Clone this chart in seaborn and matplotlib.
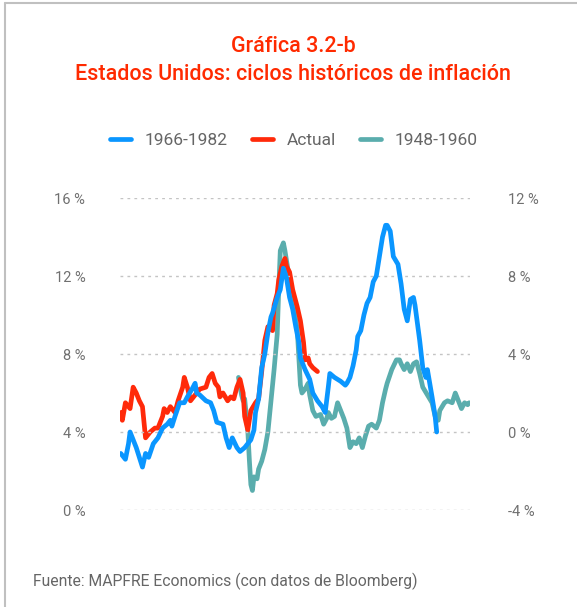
import matplotlib
matplotlib.use("Agg")
import matplotlib.pyplot as plt
from matplotlib.lines import Line2D
from matplotlib.ticker import FixedLocator, FuncFormatter
import seaborn as sns
import pandas as pd

# months since the start of each cycle, inflation in % (y/y)
blue_months = [0, 3, 5, 6, 10, 14, 16, 18, 21, 24, 27, 30, 32, 33, 35, 38, 41, 43, 46, 48,
               49, 51, 55, 58, 60, 62, 66, 68, 70, 72, 75, 77, 80, 84, 86, 87, 89, 91, 93, 95,
               97, 98, 101, 103, 105, 107, 109, 111, 113, 115, 116, 119, 122, 124, 127, 130, 132, 134, 135, 138,
               142, 145, 146, 148, 150, 152, 153, 155, 157, 159, 161, 163, 165, 167, 169, 171, 172, 174, 176, 179,
               181, 183, 185, 187, 189, 190, 193, 195, 197, 198, 201, 203, 204]
blue_vals = [2.9, 2.6, 3.4, 4.0, 3.2, 2.2, 2.9, 2.7, 3.4, 3.7, 4.2, 4.4, 4.6, 4.3, 4.8, 5.5, 5.5, 5.8, 6.2, 6.5,
             6.0, 5.9, 5.6, 5.5, 5.1, 4.5, 4.4, 3.7, 3.2, 3.7, 3.2, 3.0, 3.2, 3.6, 4.1, 5.0, 5.7, 7.3, 8.0, 9.1,
             9.9, 10.1, 10.9, 11.3, 12.4, 11.9, 10.9, 10.3, 9.4, 8.6, 7.8, 7.2, 6.7, 6.0, 5.6, 5.3, 5.0, 6.3, 7.0, 6.8,
             6.6, 6.4, 6.5, 6.8, 7.4, 8.2, 8.9, 9.2, 10.0, 10.6, 10.9, 11.7, 12.0, 13.0, 14.0, 14.6, 14.6, 14.3, 13.0, 12.6,
             11.6, 10.3, 9.7, 10.8, 10.9, 10.5, 8.7, 7.3, 6.8, 7.2, 5.8, 4.8, 4.0]

red_months = [0, 1, 3, 6, 8, 10, 12, 14, 16, 19, 22, 24, 27, 28, 30, 32, 35, 37, 40, 41,
              43, 45, 48, 51, 55, 57, 59, 61, 63, 64, 66, 69, 71, 73, 75, 77, 79, 80, 82, 84,
              87, 89, 91, 93, 95, 98, 99, 101, 102, 104, 106, 107, 109, 111, 114, 116, 118, 119, 121, 122,
              124, 127]
red_vals = [1.0, 0.6, 1.5, 1.2, 2.3, 2.0, 1.6, 1.3, -0.3, 0.0, 0.2, 0.2, 0.8, 1.2, 1.0, 1.3, 1.0, 1.6, 2.3, 2.8,
            2.3, 1.6, 1.9, 2.2, 2.3, 2.8, 3.0, 2.5, 2.3, 1.8, 2.0, 1.6, 1.8, 1.7, 2.3, 2.7, 2.0, 0.8, 0.1, 1.1,
            1.5, 1.7, 3.1, 4.7, 5.4, 5.2, 6.5, 7.1, 7.8, 8.5, 8.9, 8.5, 8.2, 7.3, 6.4, 5.7, 4.6, 3.7, 3.8, 3.5,
            3.3, 3.1]

green_months = [76, 78, 79, 80, 82, 83, 84, 85, 86, 88, 89, 91, 93, 95, 97, 99, 101, 102, 103, 105,
                106, 108, 110, 112, 114, 116, 117, 119, 121, 122, 124, 126, 129, 131, 133, 134, 136, 138, 140, 142,
                144, 146, 148, 150, 152, 154, 156, 158, 160, 162, 165, 167, 169, 171, 172, 175, 178, 180, 181, 183,
                185, 187, 189, 191, 193, 195, 198, 201, 203, 205, 206, 209, 211, 214, 216, 218, 220, 222, 224, 225]
green_vals = [2.8, 1.9, 1.6, 1.7, 0.1, -1.4, -2.7, -3.0, -2.3, -2.4, -1.9, -1.5, -0.9, 0.0, 1.6, 3.2, 5.0, 7.3, 9.3, 9.7,
              9.3, 8.3, 7.3, 6.3, 5.2, 2.4, 2.0, 2.2, 2.5, 1.9, 1.1, 0.8, 0.9, 0.4, 0.7, 1.0, 0.7, 0.8, 1.5, 1.1,
              0.7, 0.2, -0.8, -0.5, -0.6, -0.3, -0.8, -0.2, 0.3, 0.4, 0.2, 0.6, 1.5, 2.2, 2.5, 3.2, 3.7, 3.7, 3.5, 3.2,
              3.5, 3.1, 3.5, 3.6, 3.0, 2.3, 1.9, 1.5, 0.8, 0.6, 1.1, 1.5, 1.6, 1.5, 2.0, 1.6, 1.2, 1.5, 1.4, 1.5]

left_ticks = [0, 4, 8, 12, 16]
right_ticks = [-4, 0, 4, 8, 12]
labels = ["1966-1982", "Actual", "1948-1960"]
colors = ["#0a96ff", "#ff2a0a", "#5aadad"]

sns.set_theme(style="white")
plt.rcParams["font.family"] = ["Roboto", "DejaVu Sans"]

W, H = 577, 607
fig = plt.figure(figsize=(W / 100, H / 100), dpi=100)
ax = fig.add_axes([120 / W, 1 - 510 / H, 350 / W, 312 / H])
ax2 = ax.twinx()
ax.set_zorder(ax2.get_zorder() + 1)
ax.patch.set_visible(False)

blue_df = pd.DataFrame({"mes": blue_months, "valor": blue_vals})
red_df = pd.DataFrame({"mes": red_months, "valor": red_vals})
green_df = pd.DataFrame({"mes": green_months, "valor": green_vals})

lw = 3.4
sns.lineplot(data=green_df, x="mes", y="valor", ax=ax2, color=colors[2], lw=lw,
             estimator=None, sort=False, zorder=1)
sns.lineplot(data=red_df, x="mes", y="valor", ax=ax2, color=colors[1], lw=lw,
             estimator=None, sort=False, zorder=2)
sns.lineplot(data=blue_df, x="mes", y="valor", ax=ax, color=colors[0], lw=lw,
             estimator=None, sort=False, zorder=3)

ax.set_xlim(-0.5, 225.5)
ax.set_ylim(0, 16)
ax2.set_ylim(-4, 12)
for a in (ax, ax2):
    a.set_xlabel("")
    a.set_ylabel("")
    a.set_xticks([])
    for s in a.spines.values():
        s.set_visible(False)
ax.yaxis.set_major_locator(FixedLocator(left_ticks))
ax2.yaxis.set_major_locator(FixedLocator(right_ticks))
pct = FuncFormatter(lambda v, p: f"{v:.0f} %")
ax.yaxis.set_major_formatter(pct)
ax2.yaxis.set_major_formatter(pct)
ax.tick_params(axis="y", length=0, pad=25, labelsize=10.5, labelcolor="#707070")
ax2.tick_params(axis="y", length=0, pad=27, labelsize=10.5, labelcolor="#707070")
ax.yaxis.grid(True, linestyle=(0, (2, 3)), color="#c4c4c4", lw=1)
ax2.grid(False)

handles = [Line2D([], [], color=c, lw=lw) for c in colors]
leg = fig.legend(handles, labels, loc="center", bbox_to_anchor=(294 / W, 1 - 140 / H),
                 ncol=3, frameon=False, fontsize=12.5, handlelength=1.2,
                 handletextpad=0.8, columnspacing=1.4)
for t in leg.get_texts():
    t.set_color("#666666")

red_title = "#ff2a00"
fig.text(293 / W, 1 - 47 / H, "Gráfica 3.2-b", ha="center", va="center",
         fontsize=15.5, color=red_title, fontweight="medium")
fig.text(293 / W, 1 - 74 / H, "Estados Unidos: ciclos históricos de inflación", ha="center",
         va="center", fontsize=15.5, color=red_title, fontweight="medium")
fig.text(33 / W, 1 - 581 / H, "Fuente: MAPFRE Economics (con datos de Bloomberg)",
         ha="left", va="center", fontsize=11.3, color="#666666")

# marco gris del recuadro
fig.add_artist(Line2D([5 / W, 5 / W], [0, 1 - 3 / H], transform=fig.transFigure,
                      color="#c0c0c0", lw=1.5))
fig.add_artist(Line2D([5 / W, 1], [1 - 3 / H, 1 - 3 / H], transform=fig.transFigure,
                      color="#c0c0c0", lw=1.5))

fig.savefig("out.png", dpi=100)
